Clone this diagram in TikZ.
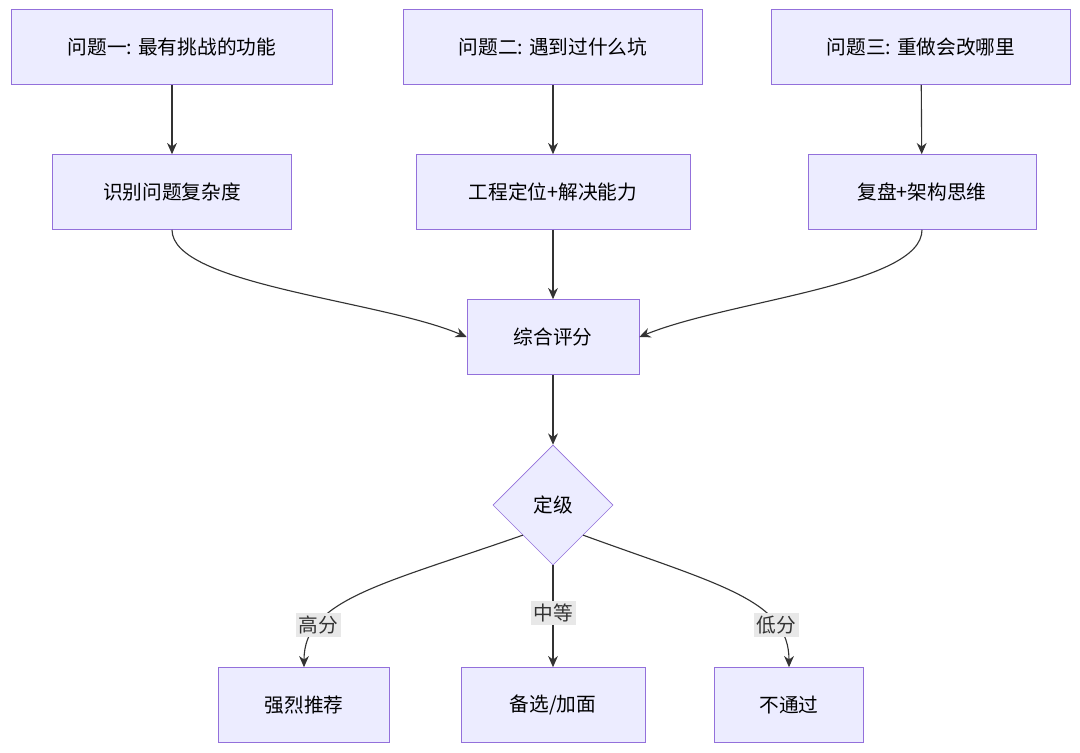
\documentclass[tikz,border=0pt]{standalone}
\usepackage{fontspec}
\setmainfont{Noto Sans CJK SC}
\usetikzlibrary{shapes.geometric,arrows.meta,positioning}
\definecolor{boxfill}{HTML}{ECECFF}
\definecolor{boxline}{HTML}{9370DB}
\definecolor{arrowgray}{HTML}{333333}
\definecolor{labelbg}{HTML}{E8E8E8}

\begin{document}
\begin{tikzpicture}[x=0.025cm, y=-0.025cm,
    box/.style={draw=boxline, fill=boxfill, minimum height=1.875cm, font=\fontsize{14}{16}\selectfont},
    decide/.style={diamond, draw=boxline, fill=boxfill, minimum width=3cm, minimum height=3cm, inner sep=0pt, font=\fontsize{14}{16}\selectfont},
    lbl/.style={fill=labelbg, inner sep=2pt, font=\fontsize{14}{16}\selectfont},
    link/.style={-{Stealth[length=8pt,width=7pt]}, arrowgray, line width=0.8pt}]
    \useasboundingbox (0,0) rectangle (1080,752);

    % Questions
    \node[box, minimum width=8.03cm] (q1) at (172,47) {问题一: 最有挑战的功能};
    \node[box, minimum width=7.48cm] (q2) at (553,47) {问题二: 遇到过什么坑};
    \node[box, minimum width=7.48cm] (q3) at (921,47) {问题三: 重做会改哪里};

    % What each question checks
    \node[box, minimum width=5.98cm] (a1) at (172,192) {识别问题复杂度};
    \node[box, minimum width=6.85cm] (a2) at (553,192) {工程定位+解决能力};
    \node[box, minimum width=5.7cm] (a3) at (922,192) {复盘+架构思维};

    % Score and grading
    \node[box, minimum width=4.3cm] (score) at (553,337) {综合评分};
    \node[decide] (grade) at (553,505) {定级};

    % Outcomes
    \node[box, minimum width=4.28cm] (high) at (304,705) {强烈推荐};
    \node[box, minimum width=4.6cm] (mid) at (553,705) {备选/加面};
    \node[box, minimum width=3.73cm] (low) at (789,705) {不通过};

    % Arrows
    \draw[link] (q1) -- (a1);
    \draw[link] (q2) -- (a2);
    \draw[link] (q3) -- (a3);
    \draw[link] (a1.south) .. controls (172,285) and (380,300) .. (score.west);
    \draw[link] (a2) -- (score);
    \draw[link] (a3.south) .. controls (922,285) and (730,300) .. (score.east);
    \draw[link] (score) -- (grade);
    \draw[link] (grade.south west) .. controls (380,585) and (304,600) .. node[lbl, pos=0.75] {高分} (high.north);
    \draw[link] (grade) -- node[lbl, pos=0.47] {中等} (mid);
    \draw[link] (grade.south east) .. controls (720,585) and (789,600) .. node[lbl, pos=0.75] {低分} (low.north);
\end{tikzpicture}
\end{document}
